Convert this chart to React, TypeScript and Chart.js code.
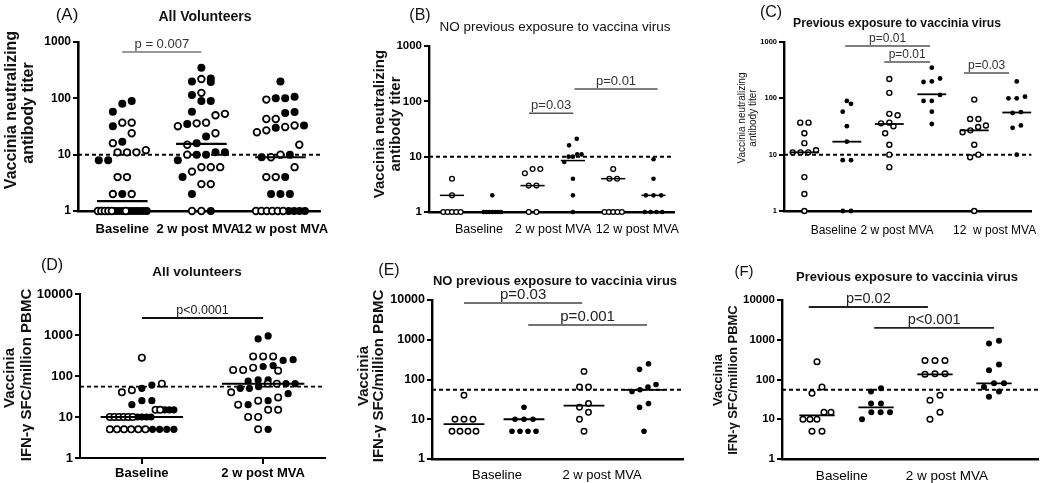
import React, { useEffect, useRef } from 'react';
import { Chart, registerables } from 'chart.js';
Chart.register(...registerables);

const FONT = '"Liberation Sans", Arial, Helvetica, sans-serif';

// ---------- Categories / ticks ----------
const NEUT_TIMEPOINTS = ['Baseline', '2 w post MVA', '12 w post MVA'];
const NEUT_TIMEPOINTS_C = ['Baseline', '2 w post MVA', '12  w post MVA'];
const IFN_TIMEPOINTS = ['Baseline', '2 w post MVA'];
const Y_TICKS_NEUT = [1, 10, 100, 1000];
const Y_TICKS_IFN = [1, 10, 100, 1000, 10000];

// ---------- Vaccinia neutralizing antibody titer ----------
// NO previous exposure (B)
const NEUT_NAIVE_BASE_OPEN = [4, 2, 1, 1, 1, 1, 1];
const NEUT_NAIVE_BASE_FILLED = [2, 1, 1, 1, 1, 1, 1, 1];
const NEUT_NAIVE_2W_OPEN = [6, 5, 6, 3, 3, 1, 1];
const NEUT_NAIVE_2W_FILLED = [21, 16, 11, 11, 10, 10, 8, 4, 2, 1];
const NEUT_NAIVE_12W_OPEN = [6, 4, 4, 1, 1, 1, 1, 1];
const NEUT_NAIVE_12W_FILLED = [9, 4, 2, 2, 2, 1, 1, 1, 1];
// Previous exposure (C)
const NEUT_PRIOR_BASE_OPEN = [37, 37, 24, 16, 12, 11, 11, 11, 4, 2, 1];
const NEUT_PRIOR_BASE_FILLED = [90, 80, 58, 32, 17, 8, 8, 1, 1];
const NEUT_PRIOR_2W_OPEN = [220, 125, 53, 50, 37, 36, 32, 24, 15, 10, 6];
const NEUT_PRIOR_2W_FILLED = [350, 225, 200, 195, 115, 90, 90, 58, 35];
const NEUT_PRIOR_12W_OPEN = [95, 43, 43, 33, 31, 27, 25, 15, 10, 9, 1];
const NEUT_PRIOR_12W_FILLED = [200, 107, 100, 100, 57, 55, 33, 30, 10];

const NEUT_ALL_MEDIANS = [1.5, 15.5, 9];
const NEUT_NAIVE_MEDIANS = [2, 1, 3, 8.5, 4, 2];
const NEUT_PRIOR_MEDIANS = [11, 17, 35, 118, 27, 56];
const NEUT_CUTOFF = 10;

// ---------- IFN-gamma SFC / million PBMC ----------
const IFN_NAIVE_BASE_OPEN = [40, 10, 10, 10, 5, 5, 5, 5];
const IFN_NAIVE_BASE_FILLED = [20, 10, 10, 10, 5, 5, 5, 5];
const IFN_NAIVE_2W_OPEN = [160, 65, 65, 25, 20, 15, 10, 5];
const IFN_NAIVE_2W_FILLED = [250, 180, 75, 65, 55, 50, 25, 20, 5];
const IFN_PRIOR_BASE_OPEN = [280, 65, 45, 15, 15, 10, 10, 10, 5, 5];
const IFN_PRIOR_BASE_FILLED = [60, 50, 25, 25, 15, 15, 15, 10];
const IFN_PRIOR_2W_OPEN = [300, 300, 300, 140, 140, 135, 40, 30, 15, 10];
const IFN_PRIOR_2W_FILLED = [950, 800, 240, 170, 80, 80, 65, 50, 37];

const IFN_ALL_MEDIANS = [10, 65];
const IFN_NAIVE_MEDIANS = [7.5, 10, 22, 55];
const IFN_PRIOR_MEDIANS = [12.5, 20, 135, 80];
const IFN_CUTOFF = 55;

// ---------- significance bars (x in column units, y in data units) ----------
const P_A = [{ label: 'p = 0.007', from: 0, to: 1, y: 664 }];
const P_B = [
  { label: 'p=0.03', from: 1.91, to: 3.01, y: 61 },
  { label: 'p=0.01', from: 3.04, to: 5.1, y: 167 },
];
const P_C = [
  { label: 'p=0.01', from: 0.96, to: 2.96, y: 849 },
  { label: 'p=0.01', from: 1.88, to: 2.96, y: 442 },
  { label: 'p=0.03', from: 3.76, to: 4.82, y: 282 },
];
const P_D = [{ label: 'p<0.0001', from: 0, to: 1, y: 2600 }];
const P_E = [
  { label: 'p=0.03', from: 0, to: 1.97, y: 8400 },
  { label: 'p=0.001', from: 1.07, to: 3.05, y: 2350 },
];
const P_F = [
  { label: 'p=0.02', from: -0.14, to: 1.88, y: 6670 },
  { label: 'p<0.001', from: 0.97, to: 3.0, y: 1980 },
];

type Item = { v: number; filled: boolean };
type PBar = { label: string; from: number; to: number; y: number };
type TextItem = { text: string; x: number; y: number; size: number; bold?: boolean; rotate?: boolean };

const col = (open: number[], filled: number[]): Item[] => [
  ...open.map((v) => ({ v, filled: false })),
  ...filled.map((v) => ({ v, filled: true })),
];

// mix two groups so that equal values alternate (as in the pooled panels)
const pool = (a: Item[], b: Item[]): Item[] => {
  const out: Item[] = [];
  const n = Math.max(a.length, b.length);
  for (let i = 0; i < n; i++) {
    if (i < a.length) out.push(a[i]);
    if (i < b.length) out.push(b[i]);
  }
  return out;
};

interface Panel {
  box: [number, number, number, number];
  area: [number, number, number, number];
  xRange: [number, number];
  yTicks: number[];
  columns: Item[][];
  medians: number[];
  medHalf: number;
  cutoff: number;
  pBars: PBar[];
  xLabels: string[];
  xLabelAt: number[];
  xFont: { size: number; bold: boolean };
  xPad: number;
  xTicks: boolean;
  tickFont: { size: number; bold: boolean };
  pFont: number;
  pColor: string;
  pTextColor: string;
  pLine: number;
  medLine: number;
  axisW: number;
  cutW: number;
  dot: { rf: number; ro: number; bw: number; spacing: number; vth: number; maxHalf: number };
  texts: TextItem[];
}

const PANELS: Panel[] = [
  {
    box: [0, 0, 340, 240], area: [78, 42, 335, 211], xRange: [-0.56, 2.5], yTicks: Y_TICKS_NEUT,
    columns: [
      pool(col(NEUT_NAIVE_BASE_OPEN, NEUT_NAIVE_BASE_FILLED), col(NEUT_PRIOR_BASE_OPEN, NEUT_PRIOR_BASE_FILLED)),
      pool(col(NEUT_NAIVE_2W_OPEN, NEUT_NAIVE_2W_FILLED), col(NEUT_PRIOR_2W_OPEN, NEUT_PRIOR_2W_FILLED)),
      pool(col(NEUT_NAIVE_12W_OPEN, NEUT_NAIVE_12W_FILLED), col(NEUT_PRIOR_12W_OPEN, NEUT_PRIOR_12W_FILLED)),
    ],
    medians: NEUT_ALL_MEDIANS, medHalf: 0.32, cutoff: NEUT_CUTOFF, pBars: P_A,
    xLabels: NEUT_TIMEPOINTS, xLabelAt: [0, 0.96, 2.03], xFont: { size: 13, bold: true }, xPad: 11, xTicks: false,
    tickFont: { size: 12, bold: true }, pFont: 13, pColor: '#777', pTextColor: '#333', pLine: 1.5, medLine: 2.2, axisW: 2.6, cutW: 2,
    dot: { rf: 4, ro: 3.3, bw: 1.8, spacing: 10, vth: 13, maxHalf: 26 },
    texts: [
      { text: '(A)', x: 67, y: 15, size: 17 },
      { text: 'All Volunteers', x: 205, y: 17, size: 14, bold: true },
      { text: 'Vaccinia neutralizing', x: 12, y: 110, size: 16, bold: true, rotate: true },
      { text: 'antibody titer', x: 29, y: 113, size: 16, bold: true, rotate: true },
    ],
  },
  {
    box: [340, 0, 350, 240], area: [429, 46, 683, 212], xRange: [-0.57, 5.5], yTicks: Y_TICKS_NEUT,
    columns: [
      col(NEUT_NAIVE_BASE_OPEN, []), col([], NEUT_NAIVE_BASE_FILLED),
      col(NEUT_NAIVE_2W_OPEN, []), col([], NEUT_NAIVE_2W_FILLED),
      col(NEUT_NAIVE_12W_OPEN, []), col([], NEUT_NAIVE_12W_FILLED),
    ],
    medians: NEUT_NAIVE_MEDIANS, medHalf: 0.3, cutoff: NEUT_CUTOFF, pBars: P_B,
    xLabels: NEUT_TIMEPOINTS, xLabelAt: [0.67, 2.51, 4.6], xFont: { size: 12.5, bold: false }, xPad: 10, xTicks: false,
    tickFont: { size: 11.5, bold: true }, pFont: 13, pColor: '#555', pTextColor: '#333', pLine: 1.5, medLine: 1.5, axisW: 2.4, cutW: 2,
    dot: { rf: 2.3, ro: 2.4, bw: 1.3, spacing: 8, vth: 8, maxHalf: 9 },
    texts: [
      { text: '(B)', x: 420, y: 16, size: 16 },
      { text: 'NO previous exposure to vaccina virus', x: 555, y: 27, size: 13.5 },
      { text: 'Vaccinia neutralizing', x: 380, y: 124, size: 15, bold: true, rotate: true },
      { text: 'antibody titer', x: 396, y: 124, size: 15, bold: true, rotate: true },
    ],
  },
  {
    box: [690, 0, 360, 240], area: [784, 42, 1038, 211], xRange: [-0.48, 5.345], yTicks: Y_TICKS_NEUT,
    columns: [
      col(NEUT_PRIOR_BASE_OPEN, []), col([], NEUT_PRIOR_BASE_FILLED),
      col(NEUT_PRIOR_2W_OPEN, []), col([], NEUT_PRIOR_2W_FILLED),
      col(NEUT_PRIOR_12W_OPEN, []), col([], NEUT_PRIOR_12W_FILLED),
    ],
    medians: NEUT_PRIOR_MEDIANS, medHalf: 0.34, cutoff: NEUT_CUTOFF, pBars: P_C,
    xLabels: NEUT_TIMEPOINTS_C, xLabelAt: [0.69, 2.18, 4.48], xFont: { size: 12, bold: false }, xPad: 12, xTicks: false,
    tickFont: { size: 7.5, bold: true }, pFont: 12, pColor: '#555', pTextColor: '#333', pLine: 1.5, medLine: 1.8, axisW: 2.4, cutW: 2,
    dot: { rf: 2.4, ro: 2.5, bw: 1.4, spacing: 8.5, vth: 9, maxHalf: 12 },
    texts: [
      { text: '(C)', x: 771, y: 13, size: 16 },
      { text: 'Previous exposure to vaccinia virus', x: 897, y: 24, size: 12.2, bold: true },
      { text: 'Vaccinia neutralizing', x: 742, y: 118, size: 10, rotate: true },
      { text: 'antibody titer', x: 753, y: 118, size: 10, rotate: true },
    ],
  },
  {
    box: [0, 240, 340, 243], area: [80, 294, 325, 458], xRange: [-0.51, 1.51], yTicks: Y_TICKS_IFN,
    columns: [
      pool(col(IFN_NAIVE_BASE_OPEN, IFN_NAIVE_BASE_FILLED), col(IFN_PRIOR_BASE_OPEN, IFN_PRIOR_BASE_FILLED)),
      pool(col(IFN_NAIVE_2W_OPEN, IFN_NAIVE_2W_FILLED), col(IFN_PRIOR_2W_OPEN, IFN_PRIOR_2W_FILLED)),
    ],
    medians: IFN_ALL_MEDIANS, medHalf: 0.34, cutoff: IFN_CUTOFF, pBars: P_D,
    xLabels: IFN_TIMEPOINTS, xLabelAt: [0, 1], xFont: { size: 13, bold: true }, xPad: 2, xTicks: true,
    tickFont: { size: 13, bold: true }, pFont: 12.5, pColor: '#111', pTextColor: '#222', pLine: 2, medLine: 2, axisW: 2, cutW: 1.6,
    dot: { rf: 3.6, ro: 3.2, bw: 1.6, spacing: 10, vth: 11, maxHalf: 32 },
    texts: [
      { text: '(D)', x: 52, y: 266, size: 16 },
      { text: 'All volunteers', x: 197, y: 272, size: 13.5, bold: true },
      { text: 'Vaccinia', x: 10, y: 378, size: 15, bold: true, rotate: true },
      { text: 'IFN-\u03b3 SFC/million PBMC', x: 27, y: 375, size: 15, bold: true, rotate: true },
    ],
  },
  {
    box: [340, 240, 350, 243], area: [432, 300, 683, 459], xRange: [-0.533, 3.65], yTicks: Y_TICKS_IFN,
    columns: [
      col(IFN_NAIVE_BASE_OPEN, []), col([], IFN_NAIVE_BASE_FILLED),
      col(IFN_NAIVE_2W_OPEN, []), col([], IFN_NAIVE_2W_FILLED),
    ],
    medians: IFN_NAIVE_MEDIANS, medHalf: 0.34, cutoff: IFN_CUTOFF, pBars: P_E,
    xLabels: IFN_TIMEPOINTS, xLabelAt: [0.55, 2.3], xFont: { size: 13, bold: false }, xPad: 9, xTicks: false,
    tickFont: { size: 12.5, bold: true }, pFont: 15, pColor: '#444', pTextColor: '#222', pLine: 1.5, medLine: 1.8, axisW: 2.4, cutW: 2,
    dot: { rf: 2.8, ro: 2.7, bw: 1.5, spacing: 9, vth: 9, maxHalf: 12 },
    texts: [
      { text: '(E)', x: 389, y: 271, size: 16 },
      { text: 'NO previous exposure to vaccinia virus', x: 555, y: 281, size: 13, bold: true },
      { text: 'Vaccinia', x: 364, y: 376, size: 15, bold: true, rotate: true },
      { text: 'IFN-\u03b3 SFC/million PBMC', x: 379, y: 376, size: 15, bold: true, rotate: true },
    ],
  },
  {
    box: [690, 240, 360, 243], area: [782, 300, 1038, 459], xRange: [-0.593, 3.746], yTicks: Y_TICKS_IFN,
    columns: [
      col(IFN_PRIOR_BASE_OPEN, []), col([], IFN_PRIOR_BASE_FILLED),
      col(IFN_PRIOR_2W_OPEN, []), col([], IFN_PRIOR_2W_FILLED),
    ],
    medians: IFN_PRIOR_MEDIANS, medHalf: 0.3, cutoff: IFN_CUTOFF, pBars: P_F,
    xLabels: IFN_TIMEPOINTS, xLabelAt: [0.42, 2.2], xFont: { size: 13.5, bold: false }, xPad: 9, xTicks: false,
    tickFont: { size: 11.5, bold: true }, pFont: 14.5, pColor: '#222', pTextColor: '#222', pLine: 1.8, medLine: 1.8, axisW: 2.4, cutW: 2,
    dot: { rf: 3, ro: 2.8, bw: 1.5, spacing: 10, vth: 9, maxHalf: 14 },
    texts: [
      { text: '(F)', x: 744, y: 272, size: 15 },
      { text: 'Previous exposure to vaccinia virus', x: 907, y: 277, size: 13, bold: true },
      { text: 'Vaccinia', x: 718, y: 380, size: 13, bold: true, rotate: true },
      { text: 'IFN-\u03b3 SFC/million PBMC', x: 733, y: 380, size: 13, bold: true, rotate: true },
    ],
  },
];

// GraphPad-like scatter-dot layout: values that would overlap are placed side by side
function swarm(items: Item[], center: number, pxX: number, pxDec: number, spacing: number, vth: number, maxHalf: number) {
  const idx = items.map((_, i) => i).sort((a, b) => items[a].v - items[b].v);
  const xs = new Array(items.length).fill(center);
  let i = 0;
  while (i < idx.length) {
    const start = Math.log10(items[idx[i]].v);
    let j = i + 1;
    while (j < idx.length && (Math.log10(items[idx[j]].v) - start) * pxDec < vth) j++;
    const n = j - i;
    const s = n > 1 ? Math.min(spacing, (2 * maxHalf) / (n - 1)) : 0;
    for (let k = 0; k < n; k++) xs[idx[i + k]] = center + ((k - (n - 1) / 2) * s) / pxX;
    i = j;
  }
  return xs;
}

const fontStr = (size: number, bold?: boolean) => `${bold ? 'bold ' : ''}${size}px ${FONT}`;

function buildConfig(p: Panel): any {
  const [bl, bt, bw, bh] = p.box;
  const [L, T, R, B] = p.area;
  const yMax = p.yTicks[p.yTicks.length - 1];
  const pxX = (R - L) / (p.xRange[1] - p.xRange[0]);
  const pxDec = (B - T) / Math.log10(yMax);
  const datasets: any[] = [];
  const lineDs = (data: any[], color: string, width: number, dash: number[] = []) => ({
    data, showLine: true, borderColor: color, borderWidth: width, borderDash: dash,
    pointRadius: 0, pointHoverRadius: 0, fill: false, clip: false,
  });
  p.medians.forEach((m, i) => {
    datasets.push(lineDs([{ x: i - p.medHalf, y: m }, { x: i + p.medHalf, y: m }], '#000', p.medLine));
  });
  p.columns.forEach((items, i) => {
    const xs = swarm(items, i, pxX, pxDec, p.dot.spacing, p.dot.vth, p.dot.maxHalf);
    const filled: any[] = [];
    const open: any[] = [];
    items.forEach((it, k) => (it.filled ? filled : open).push({ x: xs[k], y: it.v }));
    if (open.length)
      datasets.push({ data: open, backgroundColor: '#fff', borderColor: '#000', borderWidth: p.dot.bw, pointRadius: p.dot.ro, pointHoverRadius: p.dot.ro, clip: false });
    if (filled.length)
      datasets.push({ data: filled, backgroundColor: '#000', borderColor: '#000', borderWidth: 0, pointRadius: p.dot.rf, pointHoverRadius: p.dot.rf, clip: false });
  });
  datasets.push(lineDs([{ x: p.xRange[0], y: p.cutoff }, { x: p.xRange[1], y: p.cutoff }], '#000', p.cutW, [4, 3]));
  p.pBars.forEach((b) => datasets.push(lineDs([{ x: b.from, y: b.y }, { x: b.to, y: b.y }], p.pColor, p.pLine)));

  const textPlugin = {
    id: 'panelText',
    afterDraw(chart: any) {
      const ctx = chart.ctx as CanvasRenderingContext2D;
      for (const t of p.texts) {
        ctx.save();
        ctx.font = fontStr(t.size, t.bold);
        ctx.fillStyle = '#111';
        ctx.textAlign = 'center';
        ctx.textBaseline = 'middle';
        ctx.translate(t.x - bl, t.y - bt);
        if (t.rotate) ctx.rotate(-Math.PI / 2);
        ctx.fillText(t.text, 0, 0);
        ctx.restore();
      }
      const xs = chart.scales.x;
      const ys = chart.scales.y;
      for (const b of p.pBars) {
        ctx.save();
        ctx.font = fontStr(p.pFont);
        ctx.fillStyle = p.pTextColor;
        ctx.textAlign = 'center';
        ctx.textBaseline = 'bottom';
        ctx.fillText(b.label, xs.getPixelForValue((b.from + b.to) / 2), ys.getPixelForValue(b.y) - 1);
        ctx.restore();
      }
    },
  };

  return {
    type: 'scatter',
    data: { datasets },
    plugins: [textPlugin],
    options: {
      responsive: false,
      animation: false,
      events: [],
      layout: { padding: { left: 0, top: T - bt, right: bl + bw - R, bottom: 0 } },
      plugins: { legend: { display: false }, tooltip: { enabled: false }, title: { display: false } },
      scales: {
        x: {
          type: 'linear', min: p.xRange[0], max: p.xRange[1], position: 'bottom',
          afterFit: (s: any) => { s.height = bt + bh - B; },
          afterBuildTicks: (s: any) => { s.ticks = p.xLabelAt.map((v) => ({ value: v })); },
          ticks: {
            callback: (_v: any, i: number) => p.xLabels[i],
            autoSkip: false, maxRotation: 0, minRotation: 0, padding: p.xPad, color: '#000',
            font: { family: FONT, size: p.xFont.size, weight: p.xFont.bold ? 'bold' : 'normal' },
          },
          grid: { display: p.xTicks, drawOnChartArea: false, drawTicks: p.xTicks, tickLength: 6, color: '#000', lineWidth: 2 },
          border: { display: true, color: '#000', width: p.axisW },
        },
        y: {
          type: 'logarithmic', min: p.yTicks[0], max: yMax, position: 'left',
          afterFit: (s: any) => { s.width = L - bl; },
          afterBuildTicks: (s: any) => { s.ticks = p.yTicks.map((v) => ({ value: v, major: true })); },
          ticks: {
            callback: (v: any) => String(v), padding: 2, color: '#000', autoSkip: false,
            font: { family: FONT, size: p.tickFont.size, weight: p.tickFont.bold ? 'bold' : 'normal' },
          },
          grid: { display: true, drawOnChartArea: false, drawTicks: true, tickLength: 5, color: '#000', lineWidth: 2 },
          border: { display: true, color: '#000', width: p.axisW },
        },
      },
    },
  };
}

function PanelChart({ panel }: { panel: Panel }) {
  const ref = useRef<HTMLCanvasElement>(null);
  useEffect(() => {
    if (!ref.current) return;
    const chart = new Chart(ref.current, buildConfig(panel));
    return () => chart.destroy();
  }, [panel]);
  const [l, t, w, h] = panel.box;
  return (
    <canvas
      ref={ref}
      width={w}
      height={h}
      style={{ position: 'absolute', left: l, top: t, width: w, height: h }}
    />
  );
}

export default function App() {
  return (
    <div style={{ position: 'absolute', left: 0, top: 0, width: 1050, height: 483, background: '#fff', overflow: 'hidden' }}>
      {PANELS.map((p, i) => (
        <PanelChart key={i} panel={p} />
      ))}
    </div>
  );
}
